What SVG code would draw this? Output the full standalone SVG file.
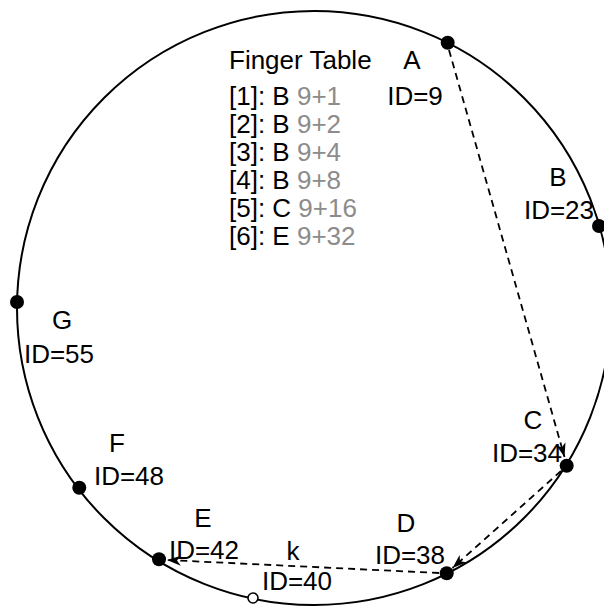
<svg xmlns="http://www.w3.org/2000/svg" width="604" height="606" viewBox="0 0 604 606">
<defs>
<style>
text{font-family:"Liberation Sans",Arial,sans-serif;font-size:26px;fill:#000}
.lbl{text-anchor:middle}
.g{fill:#8c8c8c}
.dot{fill:#000}
.ring{fill:none;stroke:#000;stroke-width:2}
.dash{fill:none;stroke:#000;stroke-width:1.8;stroke-dasharray:7 5}
</style>
<marker id="ah" viewBox="0 0 14 10" refX="14" refY="5" markerWidth="14" markerHeight="10" markerUnits="userSpaceOnUse" orient="auto">
<path d="M0,0 L14,5 L0,10 L4,5 Z" fill="#000"/>
</marker>
</defs>
<circle class="ring" cx="314" cy="308" r="297"/>
<g id="connectors">
<line class="dash" x1="449" y1="50" x2="564.5" y2="457" marker-end="url(#ah)"/>
<line class="dash" x1="561" y1="471" x2="452.5" y2="568" marker-end="url(#ah)"/>
<line class="dash" x1="439" y1="573" x2="167" y2="560" marker-end="url(#ah)"/>
</g>
<g id="fingertable">
<text x="229" y="69">Finger Table</text>
<text x="229" y="105">[1]: B <tspan class="g">9+1</tspan></text>
<text x="229" y="133">[2]: B <tspan class="g">9+2</tspan></text>
<text x="229" y="161">[3]: B <tspan class="g">9+4</tspan></text>
<text x="229" y="189">[4]: B <tspan class="g">9+8</tspan></text>
<text x="229" y="217">[5]: C <tspan class="g">9+16</tspan></text>
<text x="229" y="245">[6]: E <tspan class="g">9+32</tspan></text>
</g>
<g id="nodeA"><circle class="dot" cx="447.7" cy="42.7" r="7"/><text class="lbl" x="412" y="69">A</text><text class="lbl" x="415" y="105">ID=9</text></g>
<g id="nodeB"><circle class="dot" cx="599" cy="226" r="7"/><text class="lbl" x="558" y="186">B</text><text class="lbl" x="559" y="219">ID=23</text></g>
<g id="nodeC"><circle class="dot" cx="566.7" cy="465.7" r="7"/><text class="lbl" x="533" y="429">C</text><text class="lbl" x="527" y="462">ID=34</text></g>
<g id="nodeD"><circle class="dot" cx="446.7" cy="573.3" r="7"/><text class="lbl" x="406" y="532">D</text><text class="lbl" x="410" y="564">ID=38</text></g>
<g id="nodeE"><circle class="dot" cx="159" cy="559.3" r="7"/><text class="lbl" x="203" y="527">E</text><text class="lbl" x="204" y="559">ID=42</text></g>
<g id="nodeK"><circle cx="253" cy="598" r="5" fill="#fff" stroke="#000" stroke-width="1.6"/><text class="lbl" x="293" y="560">k</text><text class="lbl" x="297" y="590">ID=40</text></g>
<g id="nodeF"><circle class="dot" cx="79.3" cy="487.7" r="7"/><text class="lbl" x="117" y="452">F</text><text class="lbl" x="129" y="485">ID=48</text></g>
<g id="nodeG"><circle class="dot" cx="17" cy="302" r="7"/><text class="lbl" x="62" y="329">G</text><text class="lbl" x="59" y="363">ID=55</text></g>
</svg>
